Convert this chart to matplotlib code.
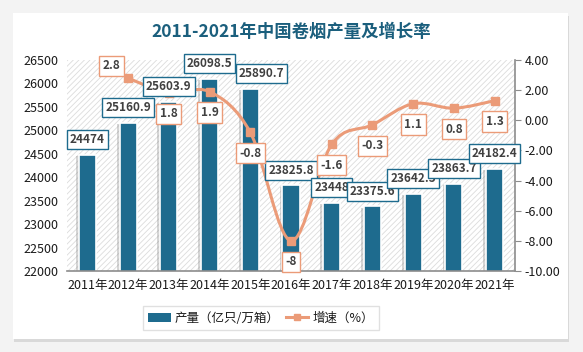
import numpy as np
import matplotlib
matplotlib.use("Agg")
import matplotlib.pyplot as plt
from matplotlib.path import Path
from matplotlib.patches import PathPatch, Rectangle, Patch
from matplotlib.lines import Line2D
import matplotlib.patheffects as pe

plt.rcParams['font.family'] = ['Noto Sans CJK SC', 'DejaVu Sans']
plt.rcParams['hatch.color'] = '#dcdcdc'
plt.rcParams['hatch.linewidth'] = 0.6

# data
years = ['2011年', '2012年', '2013年', '2014年', '2015年', '2016年',
         '2017年', '2018年', '2019年', '2020年', '2021年']
output = [24474, 25160.9, 25603.9, 26098.5, 25890.7, 23825.8,
          23448, 23375.6, 23642.5, 23863.7, 24182.4]
output_labels = ['24474', '25160.9', '25603.9', '26098.5', '25890.7', '23825.8',
                 '23448', '23375.6', '23642.5', '23863.7', '24182.4']
growth = [np.nan, 2.8, 1.8, 1.9, -0.8, -8, -1.6, -0.3, 1.1, 0.8, 1.3]

bar_color = '#1e6b8e'
line_color = '#eb9b78'
text_color = '#404040'

fig = plt.figure(figsize=(5.83, 3.52), dpi=100)
fig.patch.set_facecolor('#f3f3f3')

# white card with soft shadow
card = Rectangle((13 / 583, 13 / 352), 555 / 583, 326 / 352, transform=fig.transFigure,
                 facecolor='white', edgecolor='none', zorder=-5)
card.set_path_effects([pe.SimplePatchShadow(offset=(1, -2), shadow_rgbFace='#c8c8c8', alpha=0.6),
                       pe.Normal()])
fig.patches.append(card)

fig.text(0.5, 1 - 32 / 352, '2011-2021年中国卷烟产量及增长率', ha='center', va='center',
         fontsize=12.5, fontweight='bold', color='#1b5f7d')

ax1 = fig.add_axes([67 / 583, 81 / 352, 448 / 583, 211 / 352])
ax1.set_facecolor('white')
ax1.add_patch(Rectangle((0, 0), 1, 1, transform=ax1.transAxes, facecolor='white',
                        edgecolor='#dcdcdc', hatch='//////', lw=0, zorder=0))

x = np.arange(len(years))
bars = ax1.bar(x, output, width=0.42, color=bar_color, edgecolor='white', linewidth=1.2,
               zorder=2)
for b in bars:
    b.set_path_effects([pe.SimplePatchShadow(offset=(-2, -1), shadow_rgbFace='#888888', alpha=0.35),
                        pe.Normal()])

ax1.set_xlim(-0.5, len(years) - 0.5)
ax1.set_ylim(22000, 26500)
ax1.set_yticks(np.arange(22000, 26501, 500))
ax1.set_xticks(x)
ax1.set_xticklabels(years)
ax1.tick_params(axis='y', length=0, pad=6, labelsize=9, labelcolor='#1a1a1a')
ax1.tick_params(axis='x', length=0, pad=6, labelsize=9, labelcolor='#1a1a1a')
for s in ['top', 'left', 'right']:
    ax1.spines[s].set_visible(False)
ax1.spines['bottom'].set_color('#8c8c8c')
ax1.spines['bottom'].set_linewidth(1.2)

ax2 = ax1.twinx()
ax2.set_ylim(-10, 4)
ax2.set_yticks(np.arange(-10, 4.1, 2))
ax2.set_yticklabels([f'{v:.2f}' for v in np.arange(-10, 4.1, 2)])
ax2.tick_params(axis='y', length=4, color='#8c8c8c', pad=3, labelsize=9, labelcolor='#1a1a1a')
for s in ['top', 'left', 'bottom']:
    ax2.spines[s].set_visible(False)
ax2.spines['right'].set_color('#8c8c8c')
ax2.spines['right'].set_linewidth(1.2)

# smoothed growth line (Catmull-Rom style, like Excel's smooth line)
gx = np.array([i for i, v in enumerate(growth) if not np.isnan(v)], dtype=float)
gy = np.array([v for v in growth if not np.isnan(v)])
pts = np.column_stack([gx, gy])
verts = [pts[0]]
codes = [Path.MOVETO]
for i in range(len(pts) - 1):
    p0 = pts[i - 1] if i > 0 else pts[i]
    p1 = pts[i]
    p2 = pts[i + 1]
    p3 = pts[i + 2] if i + 2 < len(pts) else pts[i + 1]
    verts += [p1 + (p2 - p0) / 6, p2 - (p3 - p1) / 6, p2]
    codes += [Path.CURVE4] * 3
ax2.add_patch(PathPatch(Path(verts, codes), facecolor='none', edgecolor=line_color,
                        lw=2.2, zorder=3))
ax2.plot(gx, gy, linestyle='none', marker='s', markersize=6, color=line_color, zorder=4)

# production labels (drawn on ax2 so they sit over the line)
for i, v in enumerate(output):
    dx = 8 if i == 4 else 0
    ax2.annotate(output_labels[i], xy=(i, v), xycoords=ax1.transData,
                 xytext=(dx, 11), textcoords='offset points', ha='center', va='center',
                 fontsize=8.5, fontweight='bold', color=text_color, zorder=5,
                 bbox=dict(boxstyle='square,pad=0.25', fc='white', ec=bar_color, lw=1))

# growth labels
for i, v in enumerate(growth):
    if np.isnan(v):
        continue
    off = (-12, 9) if i == 1 else (0, -15)
    ax2.annotate(f'{v:g}', xy=(i, v), xytext=off, textcoords='offset points',
                 ha='center', va='center', fontsize=8.5, fontweight='bold', color=text_color,
                 zorder=6, bbox=dict(boxstyle='square,pad=0.3', fc='white', ec=line_color, lw=1))

handles = [Patch(facecolor=bar_color, edgecolor='none'),
           Line2D([], [], color=line_color, lw=2.2, marker='s', markersize=5)]
leg = fig.legend(handles, ['产量（亿只/万箱）', '增速（%）'], loc='center',
                 bbox_to_anchor=(261 / 583, 1 - 318 / 352), ncol=2, fontsize=9,
                 frameon=True, fancybox=False, edgecolor='#d9d9d9', handlelength=1.8,
                 columnspacing=0.5, handletextpad=0.3, borderpad=0.45)
leg.get_frame().set_linewidth(1)
for t in leg.get_texts():
    t.set_color('#1a1a1a')

fig.savefig('out.png', dpi=100, facecolor=fig.get_facecolor())
